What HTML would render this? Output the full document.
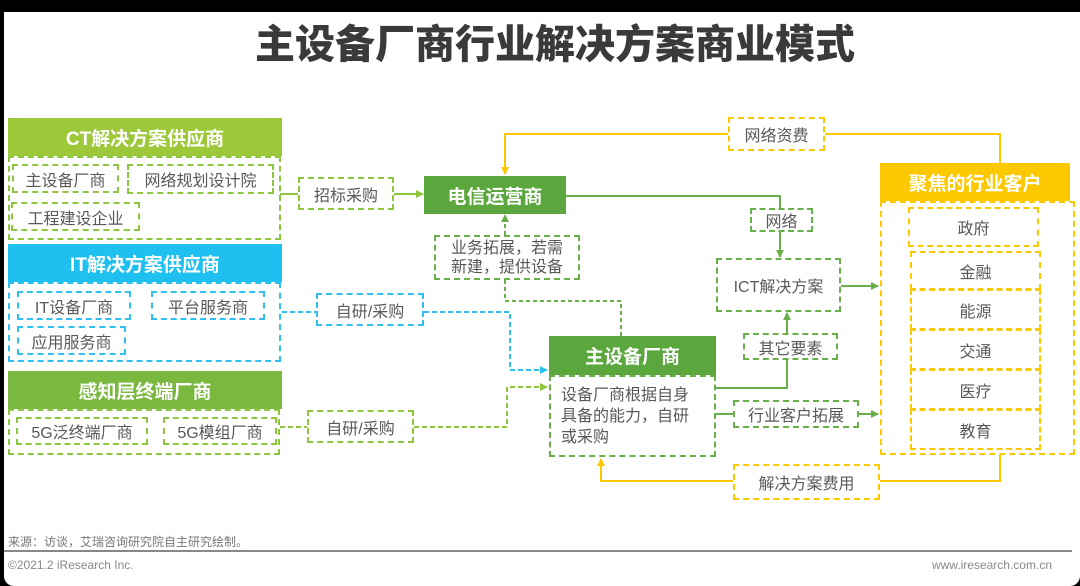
<!DOCTYPE html>
<html><head><meta charset="utf-8"><style>
*{margin:0;padding:0;box-sizing:border-box}
body{width:1080px;height:586px;background:#000;position:relative;overflow:hidden;font-family:"Liberation Sans","Noto Sans CJK SC",sans-serif;color:#595959}
#pg{position:absolute;left:4px;top:12px;width:1076px;height:574px;background:#fff;border-radius:0 0 10px 10px}
.a{position:absolute;display:flex;align-items:center;justify-content:center;text-align:center;white-space:nowrap}
.h{color:#fff;font-weight:bold;font-size:19px}
.g{border:2px dashed #8fc640}
.gg{border:2px dashed #6ab04a}
.b{border:2px dashed #2ec0ee}
.y{border:2px dashed #fcc800}
.t{font-size:16px}
svg{position:absolute;left:0;top:0}
</style></head><body>
<div id="pg"></div>
<div class="a" style="left:0;top:16px;width:1110px;height:50px;font-size:40px;font-weight:900;color:#3a3a3a">主设备厂商行业解决方案商业模式</div>

<svg width="1080" height="586">
<defs>
<marker id="mg" markerWidth="8" markerHeight="8" refX="7" refY="4" orient="auto" markerUnits="userSpaceOnUse"><path d="M0,0L8,4L0,8z" fill="#6ab04a"/></marker>
<marker id="ml" markerWidth="8" markerHeight="8" refX="7" refY="4" orient="auto" markerUnits="userSpaceOnUse"><path d="M0,0L8,4L0,8z" fill="#8fc640"/></marker>
<marker id="mb" markerWidth="8" markerHeight="8" refX="7" refY="4" orient="auto" markerUnits="userSpaceOnUse"><path d="M0,0L8,4L0,8z" fill="#2ec0ee"/></marker>
<marker id="my" markerWidth="8" markerHeight="8" refX="7" refY="4" orient="auto" markerUnits="userSpaceOnUse"><path d="M0,0L8,4L0,8z" fill="#fcc800"/></marker>
</defs>
<g fill="none" stroke-width="2">
<path d="M280,194H298" stroke="#8fc640"/>
<path d="M394,194H423" stroke="#8fc640" marker-end="url(#ml)"/>
<path d="M282,312H316" stroke="#2ec0ee" stroke-dasharray="5,3"/>
<path d="M424,312H510V370H547" stroke="#2ec0ee" stroke-dasharray="5,3" marker-end="url(#mb)"/>
<path d="M280,427H307" stroke="#8fc640" stroke-dasharray="5,3"/>
<path d="M414,427H507V387H547" stroke="#8fc640" stroke-dasharray="5,3" marker-end="url(#ml)"/>
<path d="M505,235V215" stroke="#6ab04a" stroke-dasharray="4,3" marker-end="url(#mg)"/>
<path d="M505,280V301H621V336" stroke="#6ab04a" stroke-dasharray="4,3"/>
<path d="M566,196H780V208" stroke="#6ab04a"/>
<path d="M780,232V257" stroke="#6ab04a" marker-end="url(#mg)"/>
<path d="M841,286H878" stroke="#6ab04a" marker-end="url(#mg)"/>
<path d="M716,388H787V360" stroke="#6ab04a"/>
<path d="M787,333V313" stroke="#6ab04a" marker-end="url(#mg)"/>
<path d="M716,414H733" stroke="#6ab04a"/>
<path d="M859,414H878" stroke="#6ab04a" marker-end="url(#mg)"/>
<path d="M1000,163V134H825" stroke="#fcc800"/>
<path d="M728,134H505V174" stroke="#fcc800" marker-end="url(#my)"/>
<path d="M1000,455V481H880" stroke="#fcc800"/>
<path d="M733,481H601V459" stroke="#fcc800" marker-end="url(#my)"/>
<path d="M4,551H1072" stroke="#888"/>
</g>
</svg>

<div class="a h" style="left:8px;top:118px;width:274px;height:38px;background:#9dc83a">CT解决方案供应商</div>
<div class="a g" style="left:8px;top:156px;width:273px;height:84px"></div>
<div class="a g t" style="left:12px;top:164px;width:107px;height:29px">主设备厂商</div>
<div class="a g t" style="left:127px;top:164px;width:147px;height:30px">网络规划设计院</div>
<div class="a g t" style="left:11px;top:202px;width:129px;height:29px">工程建设企业</div>

<div class="a h" style="left:8px;top:244px;width:274px;height:38px;background:#1ec0f0">IT解决方案供应商</div>
<div class="a b" style="left:8px;top:282px;width:273px;height:80px"></div>
<div class="a b t" style="left:17px;top:291px;width:114px;height:29px">IT设备厂商</div>
<div class="a b t" style="left:151px;top:291px;width:114px;height:29px">平台服务商</div>
<div class="a b t" style="left:17px;top:326px;width:109px;height:29px">应用服务商</div>

<div class="a h" style="left:8px;top:371px;width:274px;height:38px;background:#7ab840">感知层终端厂商</div>
<div class="a g" style="left:8px;top:409px;width:272px;height:46px"></div>
<div class="a g t" style="left:16px;top:417px;width:132px;height:28px">5G泛终端厂商</div>
<div class="a g t" style="left:163px;top:417px;width:114px;height:28px">5G模组厂商</div>

<div class="a g t" style="left:298px;top:177px;width:96px;height:33px">招标采购</div>
<div class="a b t" style="left:316px;top:293px;width:108px;height:33px">自研/采购</div>
<div class="a g t" style="left:307px;top:410px;width:107px;height:33px">自研/采购</div>

<div class="a h" style="left:424px;top:176px;width:142px;height:38px;background:#5ba73e">电信运营商</div>
<div class="a gg t" style="left:434px;top:235px;width:146px;height:45px;line-height:19px;white-space:normal;padding:0 10px">业务拓展，若需新建，提供设备</div>

<div class="a h" style="left:549px;top:336px;width:167px;height:39px;background:#5ba73e">主设备厂商</div>
<div class="a gg t" style="left:549px;top:375px;width:167px;height:82px;line-height:21px;white-space:normal;justify-content:flex-start;text-align:left;padding:0 10px">设备厂商根据自身具备的能力，自研或采购</div>

<div class="a gg t" style="left:750px;top:208px;width:63px;height:24px">网络</div>
<div class="a gg t" style="left:716px;top:258px;width:125px;height:54px">ICT解决方案</div>
<div class="a gg t" style="left:743px;top:333px;width:95px;height:27px">其它要素</div>
<div class="a gg t" style="left:733px;top:400px;width:126px;height:28px">行业客户拓展</div>
<div class="a y t" style="left:728px;top:117px;width:97px;height:34px">网络资费</div>
<div class="a y t" style="left:733px;top:464px;width:147px;height:36px">解决方案费用</div>

<div class="a h" style="left:880px;top:163px;width:190px;height:38px;background:#fcc800">聚焦的行业客户</div>
<div class="a y" style="left:880px;top:201px;width:195px;height:254px"></div>
<div class="a y t" style="left:908px;top:207px;width:131px;height:40px">政府</div>
<div class="a y t" style="left:910px;top:251px;width:131px;height:39px">金融</div>
<div class="a y t" style="left:910px;top:289px;width:131px;height:41px">能源</div>
<div class="a y t" style="left:910px;top:329px;width:131px;height:41px">交通</div>
<div class="a y t" style="left:910px;top:369px;width:131px;height:41px">医疗</div>
<div class="a y t" style="left:910px;top:409px;width:131px;height:41px">教育</div>

<div class="a" style="left:8px;top:533px;font-size:12px;color:#777">来源：访谈，艾瑞咨询研究院自主研究绘制。</div>
<div class="a" style="left:8px;top:558px;font-size:12px;color:#888">©2021.2 iResearch Inc.</div>
<div class="a" style="right:28px;top:558px;font-size:12px;color:#888">www.iresearch.com.cn</div>
</body></html>
